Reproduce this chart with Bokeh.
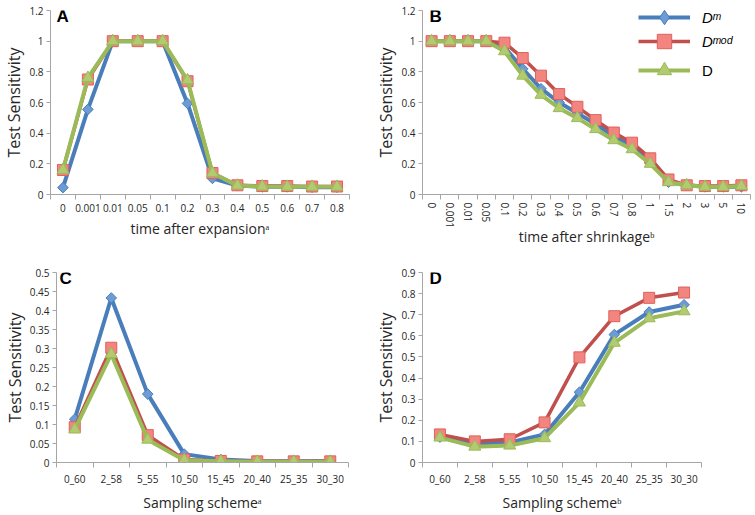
import math
from bokeh.plotting import figure
from bokeh.layouts import row, column
from bokeh.models import FixedTicker, Range1d, NumeralTickFormatter, Label, Legend, LegendItem
from bokeh.embed import file_html
from bokeh.resources import INLINE

# ---------------- data ----------------
cats_A = ["0", "0.001", "0.01", "0.05", "0.1", "0.2", "0.3", "0.4", "0.5", "0.6", "0.7", "0.8"]
dm_A = [0.045, 0.555, 1.00, 1.00, 1.00, 0.594, 0.105, 0.058, 0.05, 0.05, 0.048, 0.048]
dmod_A = [0.16, 0.75, 1.00, 1.00, 1.00, 0.739, 0.14, 0.06, 0.055, 0.055, 0.052, 0.052]
d_A = [0.16, 0.76, 1.00, 1.00, 1.00, 0.745, 0.14, 0.058, 0.052, 0.05, 0.05, 0.05]

cats_B = ["0", "0.001", "0.01", "0.05", "0.1", "0.2", "0.3", "0.4", "0.5", "0.6",
          "0.7", "0.8", "1", "1.5", "2", "3", "5", "10"]
dm_B = [1, 1, 1, 1, 0.96, 0.82, 0.69, 0.60, 0.53, 0.46, 0.38, 0.32, 0.22, 0.08, 0.06, 0.05, 0.05, 0.05]
dmod_B = [1, 1, 1, 1, 0.99, 0.89, 0.775, 0.655, 0.572, 0.485, 0.404, 0.338, 0.236, 0.098, 0.06, 0.055, 0.055, 0.06]
d_B = [1, 1, 1, 1, 0.934, 0.775, 0.65, 0.563, 0.498, 0.426, 0.354, 0.295, 0.20, 0.08, 0.06, 0.05, 0.05, 0.055]

cats_C = ["0_60", "2_58", "5_55", "10_50", "15_45", "20_40", "25_35", "30_30"]
dm_C = [0.114, 0.433, 0.18, 0.022, 0.008, 0.004, 0.003, 0.004]
dmod_C = [0.093, 0.302, 0.072, 0.008, 0.004, 0.003, 0.003, 0.003]
d_C = [0.087, 0.285, 0.06, 0.006, 0.003, 0.002, 0.002, 0.002]

cats_D = ["0_60", "2_58", "5_55", "10_50", "15_45", "20_40", "25_35", "30_30"]
dm_D = [0.12, 0.09, 0.095, 0.133, 0.333, 0.606, 0.713, 0.747]
dmod_D = [0.133, 0.10, 0.11, 0.19, 0.498, 0.693, 0.78, 0.805]
d_D = [0.118, 0.075, 0.08, 0.115, 0.284, 0.567, 0.683, 0.716]

yticks_AB = [0, 0.2, 0.4, 0.6, 0.8, 1.0, 1.2]
yticks_C = [0, 0.05, 0.1, 0.15, 0.2, 0.25, 0.3, 0.35, 0.4, 0.45, 0.5]
yticks_D = [0, 0.1, 0.2, 0.3, 0.4, 0.5, 0.6, 0.7, 0.8, 0.9]

series_names = ["Dᵐ", "Dᵐᵒᵈ", "D"]

# ---------------- styles ----------------
AX = "#A6A6A6"
TXT = "#262626"
FONT = "Open Sans"
STY = [
    dict(line="#4A7EBB", lw=4, marker="square", angle=math.pi / 4, size=7.5, fill="#6C9BD6", edge="#4A7EBB"),
    dict(line="#C0504D", lw=3.5, marker="square", angle=0, size=11, fill="#F2857F", edge="#E0605B"),
    dict(line="#9BBB59", lw=4, marker="triangle", angle=0, size=12, fill="#B2CB70", edge="#9BBB59"),
]


def make_panel(cats, series, yticks, letter, xlabel, width, height, borders,
               letter_dx, rotate=False):
    n = len(cats)
    idx = list(range(n))
    p = figure(width=width, height=height, output_backend="svg", toolbar_location=None,
               x_range=Range1d(-0.5, n - 0.5), y_range=Range1d(yticks[0], yticks[-1]),
               min_border_left=borders[0], min_border_right=borders[1],
               min_border_top=borders[2], min_border_bottom=borders[3])
    p.xgrid.visible = False
    p.ygrid.visible = False
    p.outline_line_color = None
    p.background_fill_color = "white"
    p.border_fill_color = "white"

    xa = p.xaxis[0]
    xa.ticker = FixedTicker(ticks=idx, minor_ticks=[i - 0.5 for i in range(n + 1)])
    xa.major_label_overrides = {i: c for i, c in enumerate(cats)}
    xa.major_tick_out = 0
    xa.major_tick_in = 0
    xa.major_tick_line_color = None
    xa.minor_tick_out = 5
    xa.minor_tick_in = 0
    xa.minor_tick_line_color = AX
    xa.axis_line_color = AX
    xa.major_label_text_font = FONT
    xa.major_label_text_font_size = "10px"
    xa.major_label_text_color = TXT
    xa.axis_label = xlabel
    xa.axis_label_text_font = FONT
    xa.axis_label_text_font_size = "14px"
    xa.axis_label_text_font_style = "normal"
    xa.axis_label_text_color = TXT
    if rotate:
        xa.major_label_orientation = -math.pi / 2
        xa.major_label_standoff = 3
        xa.axis_label_standoff = -4
    else:
        xa.major_label_standoff = 4
        xa.axis_label_standoff = 4

    ya = p.yaxis[0]
    ya.ticker = FixedTicker(ticks=yticks)
    ya.formatter = NumeralTickFormatter(format="0.[00]")
    ya.major_tick_out = 4
    ya.major_tick_in = 0
    ya.major_tick_line_color = AX
    ya.minor_tick_line_color = None
    ya.axis_line_color = AX
    ya.major_label_text_font = FONT
    ya.major_label_text_font_size = "10px"
    ya.major_label_text_color = TXT
    ya.major_label_standoff = 3
    ya.axis_label = "Test Sensitivity"
    ya.axis_label_text_font = FONT
    ya.axis_label_text_font_size = "16px"
    ya.axis_label_text_font_style = "normal"
    ya.axis_label_text_color = TXT
    ya.axis_label_standoff = 1

    rends = []
    for vals, st in zip(series, STY):
        ln = p.line(idx, vals, line_color=st["line"], line_width=st["lw"], line_join="round")
        sc = p.scatter(idx, vals, marker=st["marker"], angle=st["angle"], size=st["size"],
                       fill_color=st["fill"], line_color=st["edge"], line_width=1)
        rends.append((idx, vals, ln, sc))

    p.add_layout(Label(x=-0.5, y=yticks[-1], x_offset=letter_dx, y_offset=4, text=letter,
                       text_font="Liberation Sans", text_font_style="bold",
                       text_font_size="17px", text_color="black",
                       text_align="left", text_baseline="top"))
    return p, rends


W1, W2 = 372, 383
H1, H2 = 254, 260
B_borders = (50, 5, 10, 60)

pA, _ = make_panel(cats_A, [dm_A, dmod_A, d_A], yticks_AB, "A", "time after expansionᵃ",
                   W1, H1, (50, 23, 10, 60), 6)
pB, rB = make_panel(cats_B, [dm_B, dmod_B, d_B], yticks_AB, "B", "time after shrinkageᵇ",
                    W2, H1, B_borders, 7, rotate=True)
pC, _ = make_panel(cats_C, [dm_C, dmod_C, d_C], yticks_C, "C", "Sampling schemeᵃ",
                   W1, H2, (52, 24, 18, 52), 3)
pD, _ = make_panel(cats_D, [dm_D, dmod_D, d_D], yticks_D, "D", "Sampling schemeᵇ",
                   W2, H2, (48, 54, 18, 52), 7)

# legend in panel B; the blue entry uses a hidden diamond twin of the blue series
frame_bottom_B = H1 - B_borders[3]
row_centers = [17, 41, 70]          # vertical centres of the legend rows, in canvas px
GH = 36
for k, ((xs, vals, ln, sc), name) in enumerate(zip(rB, series_names)):
    mk = sc
    if k == 0:
        st = STY[0]
        mk = pB.scatter(xs, vals, marker="diamond", size=st["size"], fill_color=st["fill"],
                        line_color=st["edge"], line_width=1, visible=False)
    leg = Legend(items=[LegendItem(label=name, renderers=[ln, mk])],
                 location=(216, frame_bottom_B - row_centers[k] - GH // 2),
                 border_line_color=None, background_fill_alpha=0, padding=0, margin=0,
                 glyph_width=52, glyph_height=GH, label_standoff=12, spacing=0,
                 label_text_font="Liberation Sans", label_text_font_size="15px",
                 label_text_font_style="italic" if k < 2 else "normal",
                 label_text_color="black", inactive_fill_alpha=0)
    pB.add_layout(leg)

layout = column(row(pA, pB), row(pC, pD))
open("out.html", "w").write(file_html(layout, INLINE))
